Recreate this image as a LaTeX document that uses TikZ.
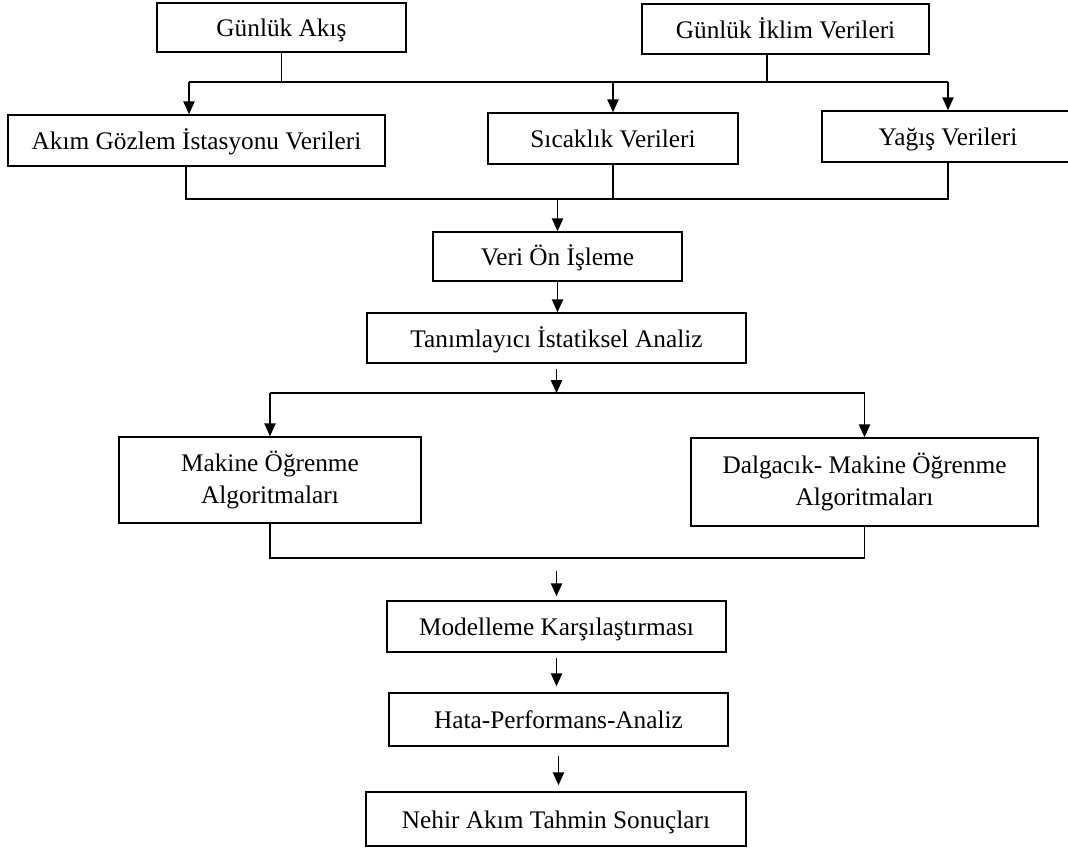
\documentclass[tikz,border=0pt]{standalone}
\usepackage{fontspec}
\setmainfont{Liberation Serif}
\usetikzlibrary{arrows.meta, positioning}

\begin{document}
\begin{tikzpicture}[
      x=0.025cm, y=-0.025cm,
      box/.style={rectangle, draw, line width=1.1pt, inner sep=0pt,
        font=\fontsize{18}{23}\selectfont},
      one/.style={box, text height=16pt, text depth=3pt},
      two/.style={box, align=center},
      link/.style={line width=1.1pt},
      arr/.style={link, -{Triangle[length=0.32cm, width=0.28cm]}}
    ]
      \useasboundingbox (0,0) rectangle (1068,850);

      \node[one, minimum width=6.225cm, minimum height=1.225cm] (GA) at (281.5,27.5) {Günlük Akış};
      \node[one, minimum width=7.175cm, minimum height=1.25cm] (GI) at (785.5,29) {Günlük İklim Verileri};

      \node[one, minimum width=9.425cm, minimum height=1.275cm] (AG) at (196.5,140.5) {Akım Gözlem İstasyonu Verileri};
      \node[one, minimum width=6.25cm, minimum height=1.275cm] (SV) at (613,138.5) {Sıcaklık Verileri};
      \node[one, minimum width=6.3cm, minimum height=1.275cm] (YV) at (948,136.5) {Yağış Verileri};

      \node[one, minimum width=6.225cm, minimum height=1.225cm] (VO) at (557.5,256.5) {Veri Ön İşleme};
      \node[one, minimum width=9.475cm, minimum height=1.25cm] (TA) at (556.5,338) {Tanımlayıcı İstatiksel Analiz};

      \node[two, minimum width=7.55cm, minimum height=2.15cm] (MO) at (270,480) {Makine Öğrenme\\Algoritmaları};
      \node[two, minimum width=8.675cm, minimum height=2.2cm] (DM) at (864.5,482) {Dalgacık- Makine Öğrenme\\Algoritmaları};

      \node[one, minimum width=8.475cm, minimum height=1.275cm] (MK) at (556.5,626.5) {Modelleme Karşılaştırması};
      \node[one, minimum width=8.475cm, minimum height=1.325cm] (HP) at (558.5,719.5) {Hata-Performans-Analiz};
      \node[one, minimum width=9.5cm, minimum height=1.35cm] (NA) at (556,819) {Nehir Akım Tahmin Sonuçları};

      % bus lines
      \coordinate (g1) at (767,82);
      \coordinate (a1) at (189,82);
      \coordinate (c1) at (186,199);
      \coordinate (b3) at (0,393);
      \coordinate (b4) at (0,558);

      \draw[link] (GA.south) -- (GA.south |- a1);
      \draw[link] (GI.south -| g1) -- (g1);
      \draw[link] (a1) -- (a1 -| YV.north);
      \draw[arr] (a1) -- (a1 |- AG.north);
      \draw[arr] (SV.north |- a1) -- (SV.north);
      \draw[arr] (YV.north |- a1) -- (YV.north);

      \draw[link] (c1 |- AG.south) -- (c1) -- (c1 -| YV.south) -- (YV.south);
      \draw[link] (SV.south) -- (SV.south |- c1);
      \draw[arr] (VO.north |- c1) -- (VO.north);
      \draw[arr] (VO.south) -- (VO.south |- TA.north);

      \draw[arr] ([yshift=-0.125cm]TA.south) -- (TA.south |- b3);
      \draw[link] (MO.north |- b3) -- (DM.north |- b3);
      \draw[arr] (MO.north |- b3) -- (MO.north);
      \draw[arr] (DM.north |- b3) -- (DM.north);

      \draw[link] (MO.south) -- (MO.south |- b4) -- (DM.south |- b4) -- (DM.south);
      \draw[arr] ([yshift=0.725cm]MK.north) -- ([yshift=0.1cm]MK.north);
      \draw[arr] ([yshift=-0.125cm]MK.south) -- ([yshift=0.15cm]MK.south |- HP.north);
      \draw[arr] ([yshift=-0.225cm]HP.south) -- ([yshift=0.15cm]HP.south |- NA.north);
    \end{tikzpicture}
\end{document}
